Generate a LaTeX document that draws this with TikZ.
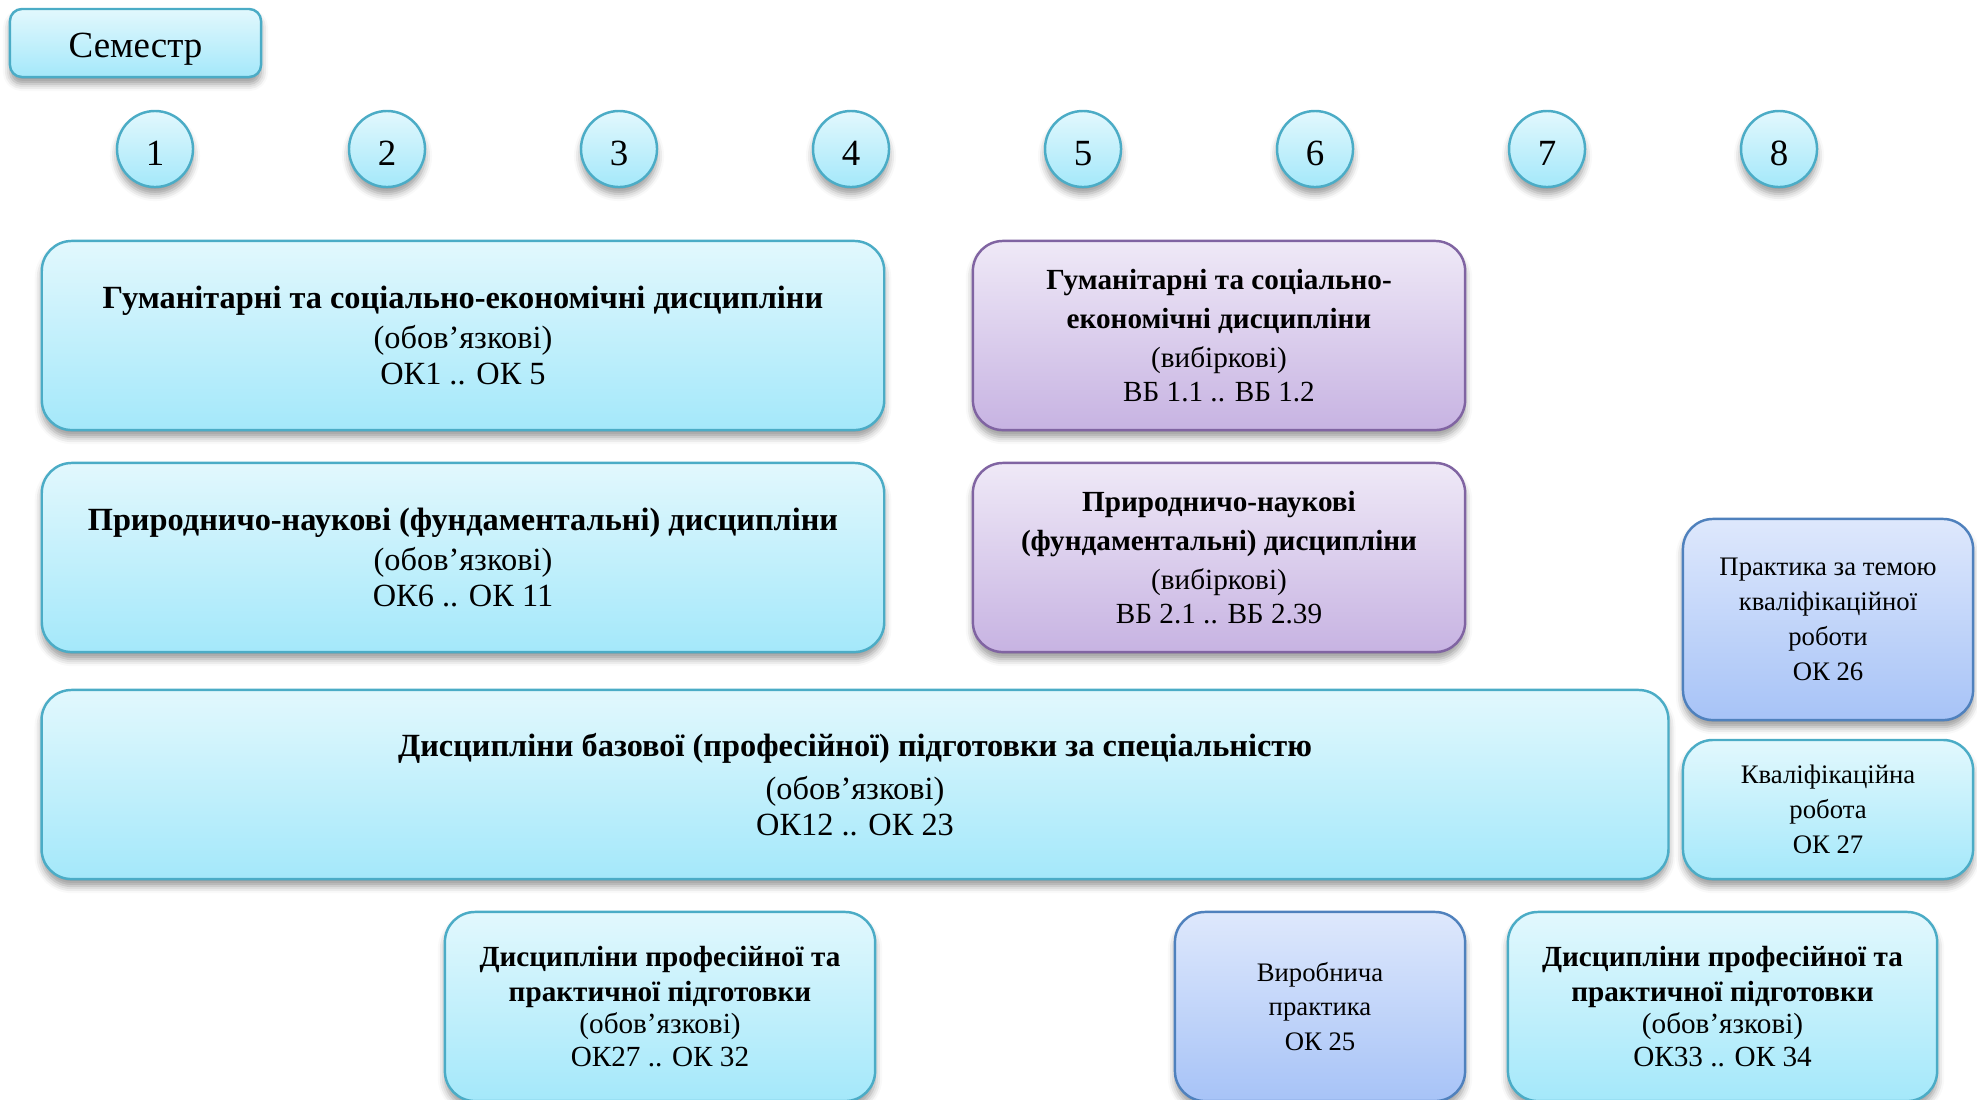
\documentclass[tikz,border=0pt]{standalone}
\usepackage{fontspec}
\setmainfont{Liberation Serif}
\usetikzlibrary{shadows.blur}
\definecolor{cyantop}{HTML}{E2F8FD}
\definecolor{cyanbot}{HTML}{A4E8FA}
\definecolor{cyanline}{HTML}{4BACC6}
\definecolor{violtop}{HTML}{EFE9F7}
\definecolor{violbot}{HTML}{C7B3E2}
\definecolor{violline}{HTML}{8064A2}
\definecolor{bluetop}{HTML}{DEE8FC}
\definecolor{bluebot}{HTML}{A7C3F7}
\definecolor{blueline}{HTML}{4F81BD}

\begin{document}
\begin{tikzpicture}[x=0.01cm, y=-0.01cm,
  box/.style={rounded corners=0.3cm, line width=0.7pt, align=center, inner sep=0pt,
    blur shadow={shadow xshift=0pt, shadow yshift=-2pt, shadow blur radius=2pt}},
  cyanbox/.style={box, draw=cyanline, top color=cyantop, bottom color=cyanbot},
  violbox/.style={box, draw=violline, top color=violtop, bottom color=violbot},
  bluebox/.style={box, draw=blueline, top color=bluetop, bottom color=bluebot},
  wide/.style={font=\fontsize{9.2}{10.3}\selectfont},
  mid/.style={font=\fontsize{8.3}{9.6}\selectfont},
  low/.style={font=\fontsize{8.3}{9.3}\selectfont},
  small/.style={font=\fontsize{7.6}{9.9}\selectfont},
  semnum/.style={cyanbox, circle, minimum size=0.76cm, text height=9.2pt, text depth=0pt,
    font=\fontsize{10.5}{12}\selectfont}]
\useasboundingbox (0,0) rectangle (1977,1099);
\node[cyanbox, rounded corners=0.12cm, minimum width=2.51cm, minimum height=0.68cm,
  text height=10.4pt, text depth=2.2pt, font=\fontsize{10.5}{12}\selectfont] (sem) at (135.5,43) {Семестр};
\foreach \i in {1,...,8}
  \node[semnum] (s\i) at ({155+232*(\i-1)},149) {\i};
\node[cyanbox, wide, minimum width=8.42cm, minimum height=1.89cm] (hum) at (463,335.5)
  {\textbf{Гуманітарні та соціально-економічні дисципліни}\\[1.2pt](обов’язкові)\\ОК1 .. ОК 5};
\node[cyanbox, wide, minimum width=8.42cm, minimum height=1.89cm] (nat) at (463,557.5)
  {\textbf{Природничо-наукові (фундаментальні) дисципліни}\\[1.2pt](обов’язкові)\\ОК6 .. ОК 11};
\node[violbox, mid, minimum width=4.92cm, minimum height=1.89cm] (humv) at (1219,335.5)
  {\textbf{Гуманітарні та соціально-}\\[1.5pt]\textbf{економічні дисципліни}\\[1.5pt](вибіркові)\\ВБ 1.1 .. ВБ 1.2};
\node[violbox, mid, minimum width=4.92cm, minimum height=1.89cm] (natv) at (1219,557.5)
  {\textbf{Природничо-наукові}\\[1.5pt]\textbf{(фундаментальні) дисципліни}\\[1.5pt](вибіркові)\\ВБ 2.1 .. ВБ 2.39};
\node[cyanbox, wide, minimum width=16.26cm, minimum height=1.89cm] (base) at (855,784.5)
  {\textbf{Дисципліни базової (професійної) підготовки за спеціальністю}\\[1.8pt](обов’язкові)\\ОК12 .. ОК 23};
\node[bluebox, small, minimum width=2.9cm, minimum height=2.01cm] (pract) at (1828,619.5)
  {Практика за темою\\кваліфікаційної\\роботи\\ОК 26};
\node[cyanbox, small, minimum width=2.9cm, minimum height=1.39cm] (qual) at (1828,809.5)
  {Кваліфікаційна\\робота\\ОК 27};
\node[cyanbox, low, minimum width=4.3cm, minimum height=1.89cm] (prof1) at (660,1006.5)
  {\textbf{Дисципліни професійної та}\\[0.6pt]\textbf{практичної підготовки}\\(обов’язкові)\\ОК27 .. ОК 32};
\node[bluebox, small, minimum width=2.9cm, minimum height=1.89cm] (prod) at (1320,1006.5)
  {Виробнича\\практика\\ОК 25};
\node[cyanbox, low, minimum width=4.29cm, minimum height=1.89cm] (prof2) at (1722.5,1006.5)
  {\textbf{Дисципліни професійної та}\\[0.6pt]\textbf{практичної підготовки}\\(обов’язкові)\\ОК33 .. ОК 34};
\end{tikzpicture}
\end{document}
